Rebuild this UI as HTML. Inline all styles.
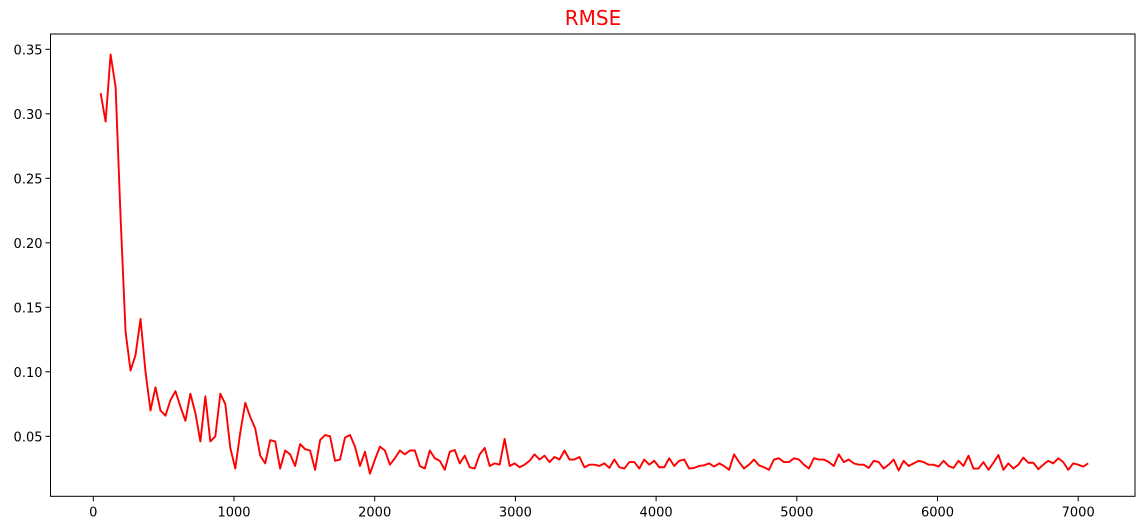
<!DOCTYPE html>
<html><head><meta charset="utf-8"><style>
body{margin:0;background:#fff;}
svg{display:block;font-family:"DejaVu Sans","Liberation Sans",sans-serif;}
</style></head><body>
<svg id="chart" width="1145" height="530"></svg>
<script>
const stepStart = 52;
const stepSize = 35.45;
const rmseValues = [0.316,0.294,0.346,0.321,0.220,0.131,0.101,0.113,0.141,0.100,0.070,0.088,0.070,0.066,0.078,0.085,0.073,0.062,0.083,0.068,0.046,0.081,0.046,0.050,0.083,0.075,0.041,0.025,0.053,0.076,0.065,0.056,0.035,0.029,0.047,0.046,0.025,0.039,0.036,0.027,0.044,0.040,0.039,0.024,0.047,0.051,0.050,0.031,0.032,0.049,0.051,0.042,0.027,0.038,0.021,0.032,0.042,0.039,0.028,0.033,0.039,0.036,0.039,0.039,0.027,0.025,0.039,0.033,0.031,0.024,0.038,0.0394,0.029,0.035,0.026,0.025,0.036,0.041,0.027,0.029,0.028,0.048,0.027,0.029,0.026,0.028,0.031,0.036,0.032,0.035,0.030,0.034,0.032,0.039,0.032,0.032,0.034,0.026,0.028,0.028,0.027,0.029,0.0255,0.032,0.026,0.025,0.030,0.030,0.025,0.032,0.028,0.031,0.026,0.026,0.033,0.027,0.031,0.032,0.025,0.0255,0.027,0.0275,0.029,0.0265,0.029,0.027,0.024,0.036,0.030,0.025,0.028,0.032,0.0275,0.026,0.024,0.032,0.033,0.030,0.030,0.033,0.032,0.028,0.025,0.033,0.032,0.032,0.030,0.027,0.036,0.030,0.032,0.029,0.028,0.028,0.0255,0.031,0.030,0.025,0.028,0.032,0.0235,0.031,0.027,0.029,0.031,0.030,0.028,0.028,0.0265,0.031,0.027,0.0255,0.031,0.027,0.035,0.025,0.025,0.030,0.024,0.0295,0.0355,0.024,0.029,0.025,0.028,0.0335,0.0295,0.0295,0.0245,0.028,0.031,0.029,0.033,0.030,0.024,0.029,0.028,0.0265,0.029];
const xTicks = [0,1000,2000,3000,4000,5000,6000,7000];
const yTicks = [0.05,0.10,0.15,0.20,0.25,0.30,0.35];
const yTickLabels = ["0.05","0.10","0.15","0.20","0.25","0.30","0.35"];

const NS = "http://www.w3.org/2000/svg";
const svg = document.getElementById('chart');
const L = 50.5, R = 1135, T = 34, B = 496.3;
function xScale(v){ return 93.3 + v * 0.14070; }
function yScale(v){ return 436.3 - (v - 0.05) * 1290; }
function mk(tag, attrs){ const e = document.createElementNS(NS, tag); for (const k in attrs) e.setAttribute(k, attrs[k]); svg.appendChild(e); return e; }

const title = mk('text', {x:593, y:25, 'text-anchor':'middle', 'font-size':'20', fill:'#ff0000'});
title.textContent = 'RMSE';



xTicks.forEach(t => {
  const x = xScale(t);
  const tk = mk('line', {x1:x, x2:x, y1:B, y2:B+5, stroke:'#000', 'stroke-width':1});
  
  
  const lb = mk('text', {x:x, y:B+20, 'text-anchor':'middle', 'font-size':'13', fill:'#000'});
  lb.textContent = String(t);
  
  
});
yTicks.forEach((t, i) => {
  const y = yScale(t);
  const tk = mk('line', {x1:L-5, x2:L, y1:y, y2:y, stroke:'#000', 'stroke-width':1});
  
  
  const lb = mk('text', {x:L-8, y:y+5, 'text-anchor':'end', 'font-size':'13', fill:'#000'});
  lb.textContent = yTickLabels[i];
  
  
});

const pts = rmseValues.map((v, i) => xScale(stepStart + i * stepSize).toFixed(2) + ',' + yScale(v).toFixed(2)).join(' ');
const line = mk('polyline', {points:pts, fill:'none', stroke:'#ff0000', 'stroke-width':1.9, 'stroke-linejoin':'round'});



const frame = mk('rect', {x:L, y:T, width:R-L, height:B-T, fill:'none', stroke:'#000', 'stroke-width':1});


</script>
</body></html>
